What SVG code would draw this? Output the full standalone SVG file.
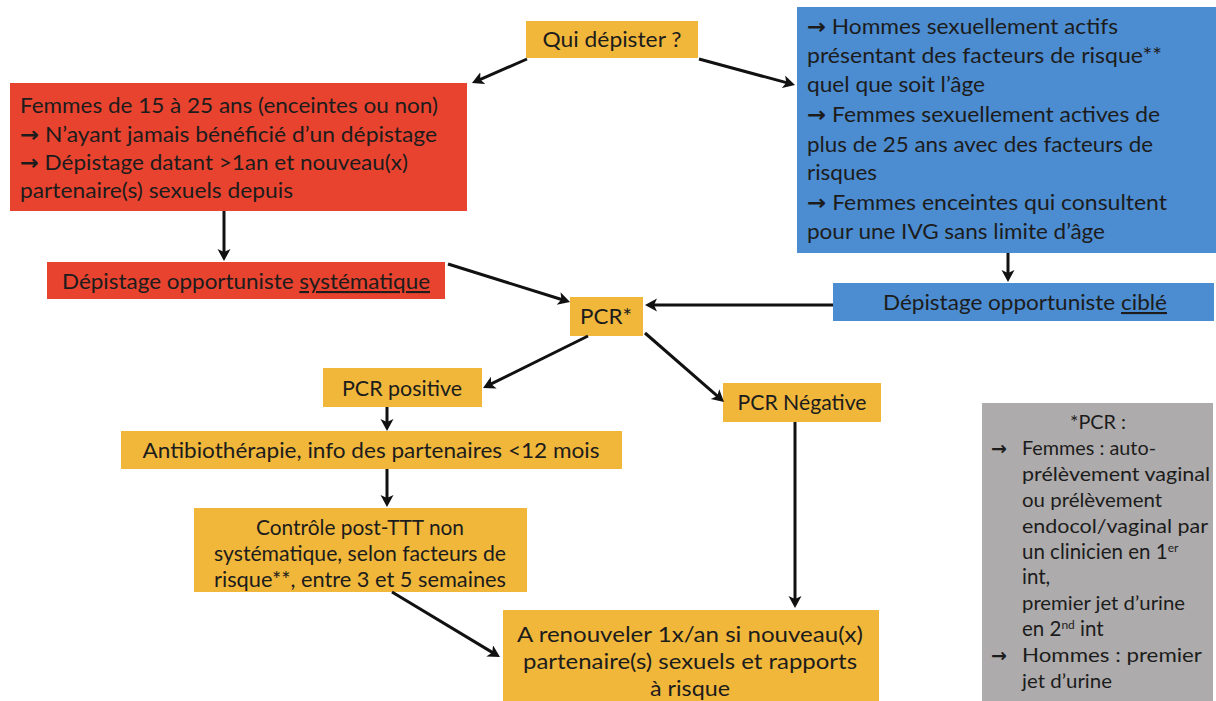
<svg xmlns="http://www.w3.org/2000/svg" width="1216" height="701" viewBox="0 0 1216 701">
<defs>
<marker id="ah" markerUnits="userSpaceOnUse" markerWidth="14" markerHeight="14" refX="4" refY="6.5" orient="auto">
<path d="M0,0 L12,6.5 L0,13 L3,6.5 z" fill="#111"/>
</marker>
<style>
.y{fill:#F0B73B}
.r{fill:#E8432F}
.b{fill:#4C8CD0}
.g{fill:#ADABAB}
text{font-family:Lato,"Liberation Sans",sans-serif;fill:#1c1c1c}
.ar{font-family:"DejaVu Sans",sans-serif;font-weight:bold}
.t{font-size:21px}
.s{font-size:19px}
.s2{font-size:20.5px}
.c{text-anchor:middle}
.cn line{stroke:#111;stroke-width:3;marker-end:url(#ah)}
</style>
</defs>
<rect width="1216" height="701" fill="#fff"/>

<g id="qui">
<rect class="y" x="526" y="21" width="172" height="37"/>
<text class="t c" x="612" y="47" textLength="139" lengthAdjust="spacingAndGlyphs">Qui dépister ?</text>
</g>

<g id="femmes">
<rect class="r" x="10" y="83" width="457" height="128"/>
<text class="t" x="20" y="113" textLength="418" lengthAdjust="spacingAndGlyphs">Femmes de 15 à 25 ans (enceintes ou non)</text>
<text class="t" x="20" y="142" textLength="417" lengthAdjust="spacingAndGlyphs"><tspan class="ar">→</tspan> N’ayant jamais bénéficié d’un dépistage</text>
<text class="t" x="20" y="170" textLength="388" lengthAdjust="spacingAndGlyphs"><tspan class="ar">→</tspan> Dépistage datant &gt;1an et nouveau(x)</text>
<text class="t" x="20" y="198" textLength="273" lengthAdjust="spacingAndGlyphs">partenaire(s) sexuels depuis</text>
</g>

<g id="hommes">
<rect class="b" x="797" y="7" width="419" height="246"/>
<text class="t" x="807" y="34" textLength="311" lengthAdjust="spacingAndGlyphs"><tspan class="ar">→</tspan> Hommes sexuellement actifs</text>
<text class="t" x="807" y="63" textLength="355" lengthAdjust="spacingAndGlyphs">présentant des facteurs de risque**</text>
<text class="t" x="807" y="92" textLength="178" lengthAdjust="spacingAndGlyphs">quel que soit l’âge</text>
<text class="t" x="807" y="122" textLength="353" lengthAdjust="spacingAndGlyphs"><tspan class="ar">→</tspan> Femmes sexuellement actives de</text>
<text class="t" x="807" y="152" textLength="346" lengthAdjust="spacingAndGlyphs">plus de 25 ans avec des facteurs de</text>
<text class="t" x="807" y="180" textLength="70" lengthAdjust="spacingAndGlyphs">risques</text>
<text class="t" x="807" y="210" textLength="360" lengthAdjust="spacingAndGlyphs"><tspan class="ar">→</tspan> Femmes enceintes qui consultent</text>
<text class="t" x="807" y="239" textLength="298" lengthAdjust="spacingAndGlyphs">pour une IVG sans limite d’âge</text>
</g>

<g id="systematique">
<rect class="r" x="47" y="262" width="398" height="37"/>
<text class="t c" x="246" y="289" textLength="368" lengthAdjust="spacingAndGlyphs">Dépistage opportuniste <tspan text-decoration="underline">systématique</tspan></text>
</g>

<g id="cible">
<rect class="b" x="833" y="283" width="381" height="38"/>
<text class="t c" x="1025" y="310" textLength="284" lengthAdjust="spacingAndGlyphs">Dépistage opportuniste <tspan text-decoration="underline">ciblé</tspan></text>
</g>

<g id="pcr">
<rect class="y" x="570" y="297" width="73" height="39"/>
<text class="t c" x="606" y="324" textLength="52" lengthAdjust="spacingAndGlyphs">PCR*</text>
</g>

<g id="pcrpos">
<rect class="y" x="323" y="368" width="159" height="39"/>
<text class="t c" x="402" y="396" textLength="120" lengthAdjust="spacingAndGlyphs">PCR positive</text>
</g>

<g id="pcrneg">
<rect class="y" x="723" y="383" width="158" height="39"/>
<text class="t c" x="802" y="410" textLength="129" lengthAdjust="spacingAndGlyphs">PCR Négative</text>
</g>

<g id="antibio">
<rect class="y" x="121" y="431" width="501" height="38"/>
<text class="t c" x="371" y="458" textLength="457" lengthAdjust="spacingAndGlyphs">Antibiothérapie, info des partenaires &lt;12 mois</text>
</g>

<g id="controle">
<rect class="y" x="194" y="508" width="333" height="84"/>
<text class="t c" x="360" y="535" textLength="208" lengthAdjust="spacingAndGlyphs">Contrôle post-TTT non</text>
<text class="t c" x="360" y="561" textLength="292" lengthAdjust="spacingAndGlyphs">systématique, selon facteurs de</text>
<text class="t c" x="360" y="587" textLength="292" lengthAdjust="spacingAndGlyphs">risque**, entre 3 et 5 semaines</text>
</g>

<g id="renouveler">
<rect class="y" x="503" y="610" width="376" height="91"/>
<text class="t c" x="690" y="642" textLength="346" lengthAdjust="spacingAndGlyphs">A renouveler 1x/an si nouveau(x)</text>
<text class="t c" x="690" y="669" textLength="334" lengthAdjust="spacingAndGlyphs">partenaire(s) sexuels et rapports</text>
<text class="t c" x="690" y="696" textLength="80" lengthAdjust="spacingAndGlyphs">à risque</text>
</g>

<g id="note">
<rect class="g" x="982" y="403" width="231" height="298"/>
<text class="s c" x="1098" y="429" textLength="56" lengthAdjust="spacingAndGlyphs">*PCR :</text>
<text class="s ar" x="991" y="455">→</text>
<text class="s" x="1022" y="455" textLength="134" lengthAdjust="spacingAndGlyphs">Femmes : auto-</text>
<text class="s" x="1022" y="481" textLength="188" lengthAdjust="spacingAndGlyphs">prélèvement vaginal</text>
<text class="s" x="1022" y="507" textLength="140" lengthAdjust="spacingAndGlyphs">ou prélèvement</text>
<text class="s" x="1022" y="533" textLength="186" lengthAdjust="spacingAndGlyphs">endocol/vaginal par</text>
<text class="s2" x="1022" y="559">un clinicien en 1<tspan font-size="12" baseline-shift="super">er</tspan></text>
<text class="s2" x="1022" y="584">int,</text>
<text class="s" x="1022" y="610" textLength="163" lengthAdjust="spacingAndGlyphs">premier jet d’urine</text>
<text class="s2" x="1022" y="636">en 2<tspan font-size="12" baseline-shift="super">nd</tspan> int</text>
<text class="s ar" x="991" y="662">→</text>
<text class="s" x="1022" y="662" textLength="180" lengthAdjust="spacingAndGlyphs">Hommes : premier</text>
<text class="s" x="1022" y="688" textLength="90" lengthAdjust="spacingAndGlyphs">jet d’urine</text>
</g>

<g id="connectors" class="cn">
<line x1="527" y1="59" x2="479.3" y2="79.8"/>
<line x1="699" y1="59" x2="787.3" y2="82.9"/>
<line x1="224" y1="211" x2="224" y2="253"/>
<line x1="1008" y1="253" x2="1008" y2="274"/>
<line x1="448" y1="264" x2="562.4" y2="299.7"/>
<line x1="833" y1="305" x2="653" y2="305"/>
<line x1="588" y1="336" x2="490.2" y2="384.4"/>
<line x1="645" y1="333" x2="718" y2="396.7"/>
<line x1="387" y1="407" x2="387" y2="423"/>
<line x1="387" y1="469" x2="387" y2="499"/>
<line x1="392" y1="592" x2="493.1" y2="652.9"/>
<line x1="795" y1="422" x2="795" y2="600"/>
</g>
</svg>
